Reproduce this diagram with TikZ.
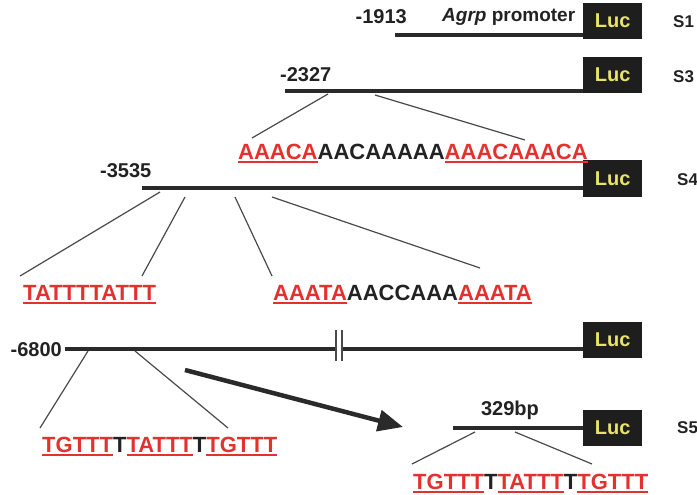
\documentclass[tikz,border=0pt]{standalone}
\usepackage{fontspec}
\setmainfont{Liberation Sans}
\usetikzlibrary{arrows.meta}
\definecolor{seqred}{HTML}{E3312D}
\definecolor{inkgray}{HTML}{222222}
\definecolor{dnagray}{HTML}{2A2A2A}
\definecolor{linkgray}{HTML}{4A4A4A}
\definecolor{lucfill}{HTML}{1E1E1E}
\definecolor{lucyellow}{HTML}{E8E36A}
% red motif with a red underline
\newcommand\redu[1]{{\color{seqred}\setbox0\hbox{#1}\rlap{\rule[-4pt]{\wd0}{1.6pt}}\box0}}
\begin{document}
\begin{tikzpicture}[x=1pt,y=-1pt,
  dna/.style={line width=3.5pt, draw=dnagray},
  link/.style={line width=1.2pt, draw=linkgray},
  bigarrow/.style={line width=4.5pt, draw=dnagray, -{Triangle[length=25pt,width=21pt]}},
  lucbox/.style={fill=lucfill, text=lucyellow, font=\bfseries\fontsize{20}{20}\selectfont,
    minimum width=59pt, minimum height=36pt, inner sep=0pt, anchor=north west},
  poslabel/.style={font=\bfseries\fontsize{20}{24}\selectfont, text=inkgray, inner sep=0pt},
  seq/.style={font=\bfseries\fontsize{22}{24}\selectfont, text=inkgray, inner sep=0pt, anchor=base west},
  slabel/.style={font=\bfseries\fontsize{17}{20}\selectfont, text=inkgray, inner sep=0pt, anchor=west}]
\useasboundingbox (0,0) rectangle (697,495);
\fill[white] (0,0) rectangle (697,495);

% reporter boxes
\node[lucbox] (luc1) at (583,3) {Luc};
\node[lucbox] (luc3) at (583,57) {Luc};
\node[lucbox, minimum height=37pt] (luc4) at (583,160) {Luc};
\node[lucbox] (luc6) at (583,322) {Luc};
\node[lucbox] (luc5) at (583,410) {Luc};

% construct names
\node[slabel] (s1) at (673,22) {S1};
\node[slabel] (s3) at (673,77) {S3};
\node[slabel] (s4) at (677,180) {S4};
\node[slabel] (s5) at (677,428) {S5};

% promoter lines
\coordinate (a1) at (395,35);
\coordinate (a3) at (285,91);
\coordinate (a4) at (142,188);
\coordinate (a6) at (65,349);
\coordinate (b6l) at (336,349);
\coordinate (b6r) at (342,349);
\coordinate (a5) at (453,428);
\draw[dna] (a1) -- (luc1.west |- a1);
\draw[dna] (a3) -- (luc3.west |- a3);
\draw[dna] (a4) -- (luc4.west |- a4);
\draw[dna] (a6) -- (b6l);
\draw[dna] (b6r) -- (luc6.west |- b6r);
\draw[dna] (a5) -- (luc5.west |- a5);

% break marks
\coordinate (k1t) at (336,330); \coordinate (k1b) at (336,361);
\coordinate (k2t) at (342,330); \coordinate (k2b) at (342,361);
\draw[link] (k1t) -- (k1b);
\draw[link] (k2t) -- (k2b);

% positions
\node[poslabel, anchor=east] (p1913) at (407,17) {-1913};
\node[poslabel, anchor=west, font=\bfseries\fontsize{19}{24}\selectfont] (agrp) at (442,17) {\textit{Agrp} promoter};
\node[poslabel, anchor=west] (p2327) at (280,75) {-2327};
\node[poslabel, anchor=west] (p3535) at (100,171) {-3535};
\node[poslabel, anchor=east] (p6800) at (62,350) {-6800};
\node[poslabel] (bp) at (510,410) {329bp};

% motif sequences
\node[seq] (sqa) at (238,159) {\redu{AAACA}AACAAAAA\redu{AAACAAACA}};
\node[seq] (sqb) at (23,300) {\redu{TATTTTATTT}};
\node[seq] (sqc) at (273,300) {\redu{AAATA}AACCAAA\redu{AAATA}};
\node[seq] (sqd) at (42,452) {\redu{TGTTT}T\redu{TATTT}T\redu{TGTTT}};
\node[seq] (sqe) at (413,489) {\redu{TGTTT}T\redu{TATTT}T\redu{TGTTT}};

% zoom-in connectors
\coordinate (c3a) at (328,94);  \coordinate (q3a) at (252,138);
\coordinate (c3b) at (375,95);  \coordinate (q3b) at (525,140);
\draw[link] (c3a) -- (q3a);
\draw[link] (c3b) -- (q3b);

\coordinate (c4a) at (160,192); \coordinate (q4a) at (20,276);
\coordinate (c4b) at (185,197); \coordinate (q4b) at (142,276);
\coordinate (c4c) at (235,197); \coordinate (q4c) at (272,276);
\coordinate (c4d) at (272,197); \coordinate (q4d) at (480,268);
\draw[link] (c4a) -- (q4a);
\draw[link] (c4b) -- (q4b);
\draw[link] (c4c) -- (q4c);
\draw[link] (c4d) -- (q4d);

\coordinate (c6a) at (88,351);  \coordinate (q6a) at (40,428);
\coordinate (c6b) at (135,351); \coordinate (q6b) at (228,428);
\draw[link] (c6a) -- (q6a);
\draw[link] (c6b) -- (q6b);

\coordinate (c5a) at (475,432); \coordinate (q5a) at (412,464);
\coordinate (c5b) at (515,432); \coordinate (q5b) at (592,464);
\draw[link] (c5a) -- (q5a);
\draw[link] (c5b) -- (q5b);

% deletion arrow
\coordinate (arS) at (185,370);
\coordinate (arE) at (403,427);
\draw[bigarrow] (arS) -- (arE);
\end{tikzpicture}
\end{document}
